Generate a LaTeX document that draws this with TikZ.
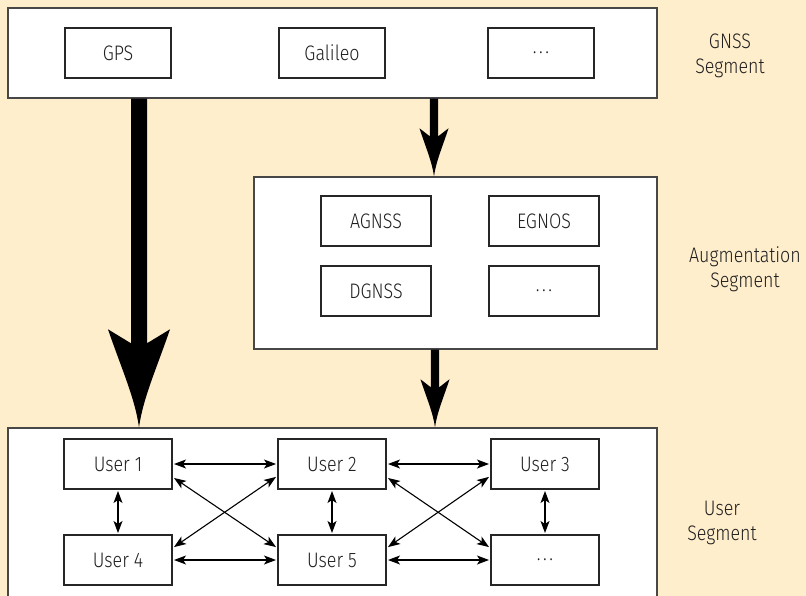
\documentclass[tikz,border=0pt]{standalone}
\usepackage{fontspec}
\IfFontExistsTF{Fira Sans Light}
  {\setmainfont{Fira Sans Light}[FakeStretch=0.85]}
  {\setmainfont{Fira Sans}[FakeStretch=0.85]}
\usetikzlibrary{arrows.meta,calc}
\definecolor{bg}{HTML}{FFEECC}
\newcommand{\heavyarrow}[6]{%
  \fill[black] ($(#1)+(-#3,0)$) -- ($(#2)+(-#3,-#6)$) -- ($(#2)+(-#4,-#5)$)
    .. controls ($(#2)+(-0.58*#4,-0.61*#5)$) and ($(#2)+(-0.13*#4,-0.3*#5)$) .. (#2)
    .. controls ($(#2)+(0.13*#4,-0.3*#5)$) and ($(#2)+(0.58*#4,-0.61*#5)$) .. ($(#2)+(#4,-#5)$)
    -- ($(#2)+(#3,-#6)$) -- ($(#1)+(#3,0)$) -- cycle;}
\newcommand{\threedots}{.\hspace{2.6pt}.\hspace{2.6pt}.}
\begin{document}
\begin{tikzpicture}[x=1pt,y=-1pt,
  seg/.style={draw=black!72, line width=1.4pt, fill=white, inner sep=0pt},
  box/.style={draw=black!85, line width=1.2pt, fill=white, minimum width=106pt,
    minimum height=50pt, inner sep=0pt, outer sep=2pt, text=black!88,
    font=\fontsize{21}{25}\selectfont},
  lab/.style={align=center, font=\fontsize{21}{25}\selectfont, text=black!88},
  bi/.style={{Stealth[length=12pt,width=9pt,inset=3pt]}-{Stealth[length=12pt,width=9pt,inset=3pt]}, line width=1.1pt}]
\useasboundingbox (0,0) rectangle (806,596);
\clip (0,0) rectangle (806,596);
\fill[bg] (0,0) rectangle (806,596);

% segments
\node[seg, minimum width=649pt, minimum height=90pt] (gnss) at (332.5,53) {};
\node[seg, minimum width=403pt, minimum height=172pt] (aug) at (455.5,263) {};
\node[seg, minimum width=649pt, minimum height=184pt] (user) at (332.5,520) {};

% GNSS boxes
\node[box] (gps) at (118,53) {GPS};
\node[box] (gal) at (332,53) {Galileo};
\node[box] (gdots) at (541,53) {\threedots};

% augmentation boxes
\node[box, minimum width=110pt] (agnss) at (376,221) {AGNSS};
\node[box, minimum width=110pt] (egnos) at (544,221) {EGNOS};
\node[box, minimum width=110pt] (dgnss) at (376,291) {DGNSS};
\node[box, minimum width=110pt] (adots) at (544,291) {\threedots};

% user boxes
\node[box, minimum width=108pt] (u1) at (118,464) {User 1};
\node[box, minimum width=108pt] (u2) at (332,464) {User 2};
\node[box, minimum width=108pt] (u3) at (545,464) {User 3};
\node[box, minimum width=108pt] (u4) at (118,560) {User 4};
\node[box, minimum width=108pt] (u5) at (332,560) {User 5};
\node[box, minimum width=108pt] (udots) at (545,560) {\threedots};

% labels
\node[lab] (lgnss) at (730,56) {GNSS\\Segment};
\node[lab] (laug) at (745,269) {Augmentation\\Segment};
\node[lab] (luser) at (722,523) {User\\Segment};

% heavy arrows
\coordinate (bigS) at (gnss.south -| 139,0);
\coordinate (bigT) at (user.north -| 139,0);
\heavyarrow{bigS}{bigT}{8}{31}{98}{84}
\coordinate (s1S) at (gnss.south -| 434,0);
\coordinate (s1T) at (aug.north -| 434,0);
\heavyarrow{s1S}{s1T}{4.2}{14.5}{48}{40}
\coordinate (s2S) at (aug.south -| 435,0);
\coordinate (s2T) at (user.north -| 435,0);
\heavyarrow{s2S}{s2T}{4.2}{14.5}{48}{40}

% user links
\draw[bi] (u1.east) -- (u2.west);
\draw[bi] (u2.east) -- (u3.west);
\draw[bi] (u4.east) -- (u5.west);
\draw[bi] (u5.east) -- (udots.west);
\draw[bi] (u1.south) -- (u4.north);
\draw[bi] (u2.south) -- (u5.north);
\draw[bi] (u3.south) -- (udots.north);
\draw[bi] (u1.-14) -- (u5.167);
\draw[bi] (u4.13) -- (u2.-167);
\draw[bi] (u2.-14) -- (udots.167);
\draw[bi] (u5.13) -- (u3.-167);
\end{tikzpicture}
\end{document}
